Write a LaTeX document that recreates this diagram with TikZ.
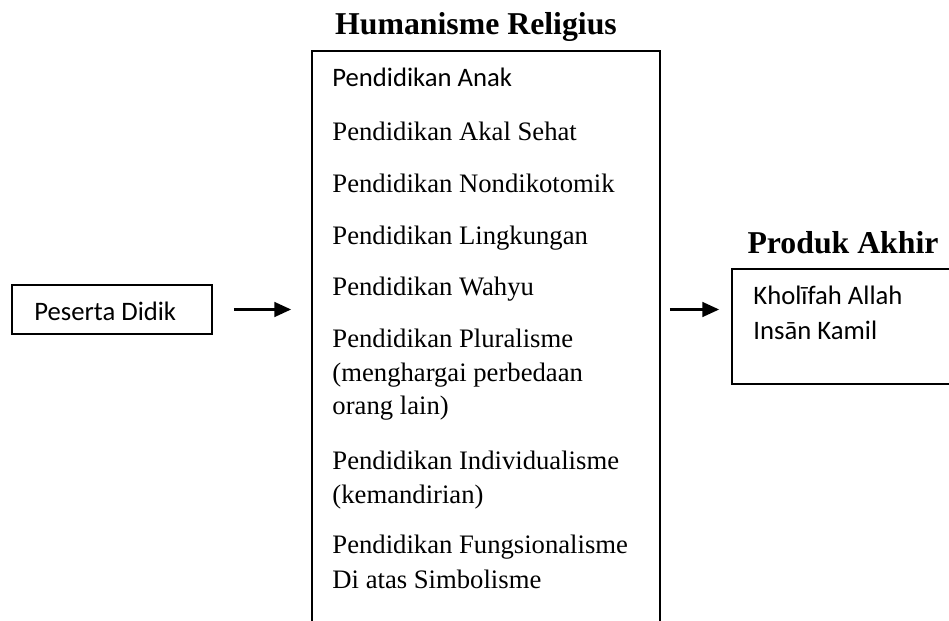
\documentclass[tikz,border=0pt]{standalone}
\usepackage{fontspec}
\setmainfont{Liberation Serif}
\newfontfamily\calibri{Carlito}
\usetikzlibrary{arrows.meta}

\begin{document}
\begin{tikzpicture}[x=0.45pt, y=-0.45pt,
  box/.style={draw, rectangle, line width=0.8pt, inner sep=0pt},
  item/.style={anchor=base west, inner sep=0pt, align=left, font=\fontsize{12}{15.1}\selectfont},
  title/.style={anchor=base, inner sep=0pt, font=\fontsize{14.3}{17}\selectfont\bfseries},
  arr/.style={-{Triangle[length=7.5pt,width=6.6pt]}, line width=1pt}]
  \useasboundingbox (0,0) rectangle (949,621);
  \clip (0,0) rectangle (949,621);

  % boxes
  \node[box, minimum width=90pt, minimum height=22pt] (peserta) at (112,309.5) {};
  \node[box, minimum width=156.6pt, minimum height=301pt] (main) at (486,385.5) {};
  \node[box, minimum width=120.6pt, minimum height=51.75pt] (hasil) at (866,326.5) {};

  \node[title] (judul) at (476,35) {Humanisme Religius};
  \node[title] (produk) at (843,254) {Produk Akhir};

  \node[item, font=\calibri\fontsize{12}{15}\selectfont] (pesertatext) at (34,321) {Peserta Didik};

  % multi-line items are placed by the baseline of their last line
  \node[item, font=\calibri\fontsize{12}{15}\selectfont] (anak) at (332,87) {Pendidikan Anak};
  \node[item] (akal) at (332,141) {Pendidikan Akal Sehat};
  \node[item] (nondikotomik) at (332,193) {Pendidikan Nondikotomik};
  \node[item] (lingkungan) at (332,245) {Pendidikan Lingkungan};
  \node[item] (wahyu) at (332,296) {Pendidikan Wahyu};
  \node[item] (pluralisme) at (332,415) {Pendidikan Pluralisme\\(menghargai perbedaan\\orang lain)};
  \node[item] (individualisme) at (332,503) {Pendidikan Individualisme\\(kemandirian)};
  \node[item] (fungsionalisme) at (332,588) {Pendidikan Fungsionalisme\\[0.6pt]Di atas Simbolisme};

  \node[item, font=\calibri\fontsize{12}{15.75}\selectfont] (hasiltext) at (753,340) {Kholīfah Allah\\Insān Kamil};

  \draw[arr, shorten <=9.45pt, shorten >=9pt] (peserta.east) -- (peserta.east -| main.west);
  \draw[arr, shorten <=4pt, shorten >=5.4pt] (main.east |- peserta.east) -- (hasil.west |- peserta.east);
\end{tikzpicture}
\end{document}
